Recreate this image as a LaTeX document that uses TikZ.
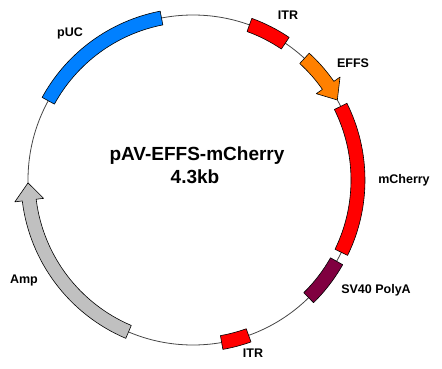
\documentclass[tikz,border=0pt]{standalone}
\usepackage{fontspec}
\setmainfont{Liberation Sans}
\usepackage{tikz}

\definecolor{pucblue}{RGB}{0,128,255}
\definecolor{itrred}{RGB}{255,0,0}
\definecolor{effsorange}{RGB}{255,128,0}
\definecolor{polyamaroon}{RGB}{128,0,64}
\definecolor{ampgray}{RGB}{192,192,192}
\definecolor{backbone}{RGB}{70,70,70}

\tikzset{
  feature/.style={draw=black, line width=0.6pt, line join=round},
  featlabel/.style={font=\fontsize{12.5}{14}\bfseries},
  titlelabel/.style={font=\fontsize{19}{22}\bfseries}
}

% band on the circle: colour, start angle, end angle
\newcommand{\featband}[3]{%
  \filldraw[feature, fill=#1] (#2:172pt) arc (#2:#3:172pt)
    -- (#3:158pt) arc (#3:#2:158pt) -- cycle;}

\begin{document}
\begin{tikzpicture}[x=1pt,y=1pt]
    \useasboundingbox (0,0) rectangle (442,368);
    \begin{scope}[shift={(193,188)}]
        \draw[backbone, line width=0.8pt] (0,0) circle (165pt);
        \featband{pucblue}{151.3}{101}
        \featband{itrred}{70}{56}
        \featband{itrred}{26.5}{-26}
        \featband{polyamaroon}{-29.5}{-45.5}
        \featband{itrred}{-70.3}{-80}
        % EFFS arrow, clockwise
        \filldraw[feature, fill=effsorange] (47.5:172pt) arc (47.5:35:172pt)
            -- (35:179.5pt) -- (29:165pt) -- (35:150.5pt)
            -- (35:158pt) arc (35:47.5:158pt) -- cycle;
        % Amp arrow, counter clockwise
        \filldraw[feature, fill=ampgray] (247:172pt) arc (247:187:172pt)
            -- (187:179.5pt) -- (181:165pt) -- (187:150.5pt)
            -- (187:158pt) arc (187:247:158pt) -- cycle;
    \end{scope}

    \node[featlabel] (puc) at (70,335) {pUC};
    \node[featlabel] (itrtop) at (288,353) {ITR};
    \node[featlabel] (effs) at (353,305) {EFFS};
    \node[featlabel] (mcherry) at (404,188) {mCherry};
    \node[featlabel] (polya) at (376,78) {SV40 PolyA};
    \node[featlabel] (itrbot) at (253,15) {ITR};
    \node[featlabel] (amp) at (24,88) {Amp};

    \node[titlelabel] (name) at (197,212) {pAV-EFFS-mCherry};
    \node[titlelabel] (size) at (195,191) {4.3kb};
\end{tikzpicture}
\end{document}
